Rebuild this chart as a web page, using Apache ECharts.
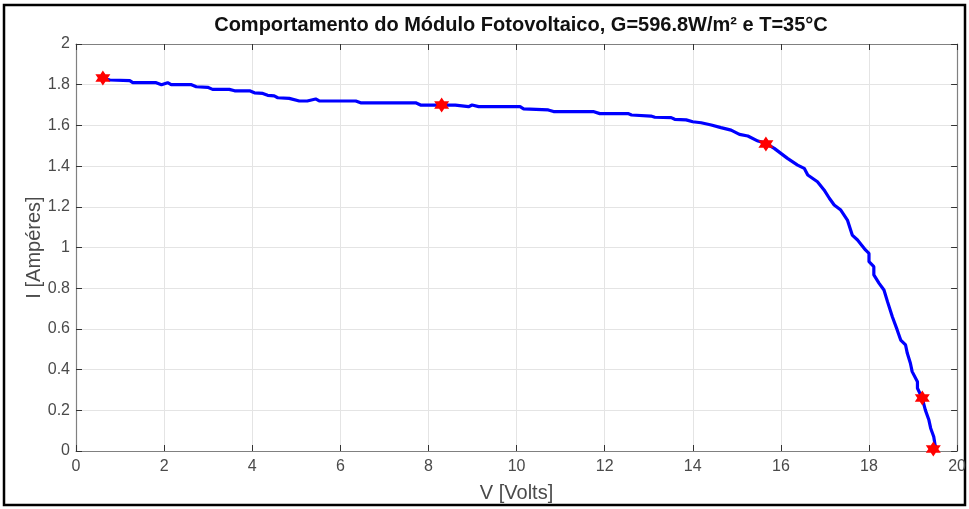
<!DOCTYPE html>
<html>
<head>
<meta charset="utf-8">
<script src="https://cdn.jsdelivr.net/npm/echarts@6/dist/echarts.min.js"></script>
<style>
  html, body { margin: 0; padding: 0; background: #fff; }
  #chart { width: 969px; height: 509px; }
</style>
</head>
<body>
<div id="chart"></div>
<script>
// I-V curve of the PV module (voltage in volts, current in amperes)
const voltage = [0.62, 0.77, 1.22, 1.29, 1.82, 1.94, 2.08, 2.16, 2.62, 2.73, 2.99, 3.10, 3.48, 3.60, 3.94,
  4.05, 4.24, 4.35, 4.50, 4.58, 4.84, 5.07, 5.25, 5.44, 5.52, 6.35, 6.46, 7.71, 7.82, 8.61, 8.91, 8.99,
  9.14, 10.08, 10.16, 10.72, 10.84, 11.74, 11.89, 12.53, 12.61, 13.05, 13.14, 13.51, 13.59, 13.85, 14.00,
  14.19, 14.42, 14.64, 14.87, 15.06, 15.25, 15.48, 15.66, 15.85, 16.15, 16.38, 16.53, 16.61, 16.83, 16.98,
  17.10, 17.21, 17.36, 17.51, 17.62, 17.74, 17.92, 18.00, 18.00, 18.11, 18.11, 18.23, 18.34, 18.42, 18.53,
  18.64, 18.72, 18.83, 18.87, 18.94, 18.98, 19.10, 19.10, 19.21, 19.28, 19.36, 19.40, 19.47, 19.50, 19.53];
const current = [1.832, 1.823, 1.820, 1.810, 1.810, 1.800, 1.810, 1.800, 1.800, 1.790, 1.787, 1.777, 1.777, 1.770, 1.770,
  1.760, 1.757, 1.748, 1.745, 1.736, 1.733, 1.720, 1.720, 1.730, 1.720, 1.720, 1.711, 1.711, 1.700, 1.700, 1.692, 1.700,
  1.692, 1.692, 1.681, 1.676, 1.668, 1.668, 1.658, 1.658, 1.651, 1.646, 1.640, 1.638, 1.630, 1.627, 1.618,
  1.613, 1.602, 1.589, 1.577, 1.556, 1.548, 1.523, 1.512, 1.487, 1.438, 1.405, 1.389, 1.356, 1.323, 1.283,
  1.242, 1.209, 1.184, 1.135, 1.061, 1.037, 0.988, 0.971, 0.930, 0.906, 0.865, 0.824, 0.791, 0.734, 0.660,
  0.595, 0.545, 0.521, 0.480, 0.431, 0.390, 0.340, 0.308, 0.259, 0.201, 0.152, 0.112, 0.070, 0.030, 0.015];

// highlighted operating points
const markV = [0.61, 8.30, 15.66, 19.21, 19.46];
const markI = [1.833, 1.700, 1.509, 0.260, 0.010];

const titleText = 'Comportamento do Módulo Fotovoltaico, G=596.8W/m² e T=35°C';
const xName = 'V [Volts]';
const yName = 'I [Ampéres]';

// six-pointed star symbol
function hexagramPath() {
  const pts = [];
  for (let k = 0; k < 12; k++) {
    const a = (-90 + 30 * k) * Math.PI / 180;
    const r = k % 2 === 0 ? 10 : 5.77;
    pts.push((r * Math.cos(a)).toFixed(3) + ' ' + (r * Math.sin(a)).toFixed(3));
  }
  return 'path://M' + pts.join(' L') + ' Z';
}

const curve = voltage.map((v, i) => [v, current[i]]);
const marks = markV.map((v, i) => [v, markI[i]]);

const axisGray = '#808080';
const gridGray = '#e4e4e4';
const labelGray = '#4a4a4a';
const font = 'Liberation Sans, Arial, sans-serif';

const chart = echarts.init(document.getElementById('chart'));
chart.setOption({
  animation: false,
  backgroundColor: '#ffffff',
  title: {
    text: titleText,
    left: 516,
    top: 10,
    textAlign: 'center',
    textStyle: { fontFamily: font, fontSize: 20, fontWeight: 'bold', color: '#111' }
  },
  grid: { left: 76, right: 9, top: 44, bottom: 58, show: false },
  xAxis: [{
    type: 'value', min: 0, max: 20, interval: 2,
    name: xName, nameLocation: 'middle', nameGap: 32, nameMoveOverlap: false,
    nameTextStyle: { fontFamily: font, fontSize: 20, color: labelGray },
    axisLine: { show: true, onZero: false, lineStyle: { color: axisGray, width: 1.2 } },
    axisTick: { show: true, inside: true, length: 6, lineStyle: { color: '#333' } },
    axisLabel: { fontFamily: font, fontSize: 16, color: labelGray, margin: 8 },
    splitLine: { show: true, lineStyle: { color: gridGray, width: 1 } }
  }, {
    type: 'value', min: 0, max: 20, interval: 2, position: 'top',
    axisLine: { show: true, onZero: false, lineStyle: { color: axisGray, width: 1.2 } },
    axisTick: { show: true, inside: true, length: 6, lineStyle: { color: '#333' } },
    axisLabel: { show: false },
    splitLine: { show: false }
  }],
  yAxis: [{
    type: 'value', min: 0, max: 2, interval: 0.2,
    name: yName, nameLocation: 'middle', nameGap: 32, nameMoveOverlap: false,
    nameTextStyle: { fontFamily: font, fontSize: 20, color: labelGray },
    axisLine: { show: true, onZero: false, lineStyle: { color: axisGray, width: 1.2 } },
    axisTick: { show: true, inside: true, length: 6, lineStyle: { color: '#333' } },
    axisLabel: {
      fontFamily: font, fontSize: 16, color: labelGray, margin: 6,
      formatter: v => String(Math.round(v * 10) / 10)
    },
    splitLine: { show: true, lineStyle: { color: gridGray, width: 1 } }
  }, {
    type: 'value', min: 0, max: 2, interval: 0.2, position: 'right',
    axisLine: { show: true, onZero: false, lineStyle: { color: axisGray, width: 1.2 } },
    axisTick: { show: true, inside: true, length: 6, lineStyle: { color: '#333' } },
    axisLabel: { show: false },
    splitLine: { show: false }
  }],
  series: [{
    type: 'line',
    data: curve,
    showSymbol: false,
    lineStyle: { color: '#0000ff', width: 3.2 },
    z: 3
  }, {
    type: 'scatter',
    data: marks,
    symbol: hexagramPath(),
    symbolSize: 15,
    itemStyle: { color: '#ff0000', opacity: 1 },
    z: 4
  }],
  graphic: [{
    type: 'rect',
    shape: { x: 4, y: 5, width: 961, height: 500 },
    style: { fill: 'none', stroke: '#000', lineWidth: 2.5 },
    silent: true
  }]
});
</script>
</body>
</html>
